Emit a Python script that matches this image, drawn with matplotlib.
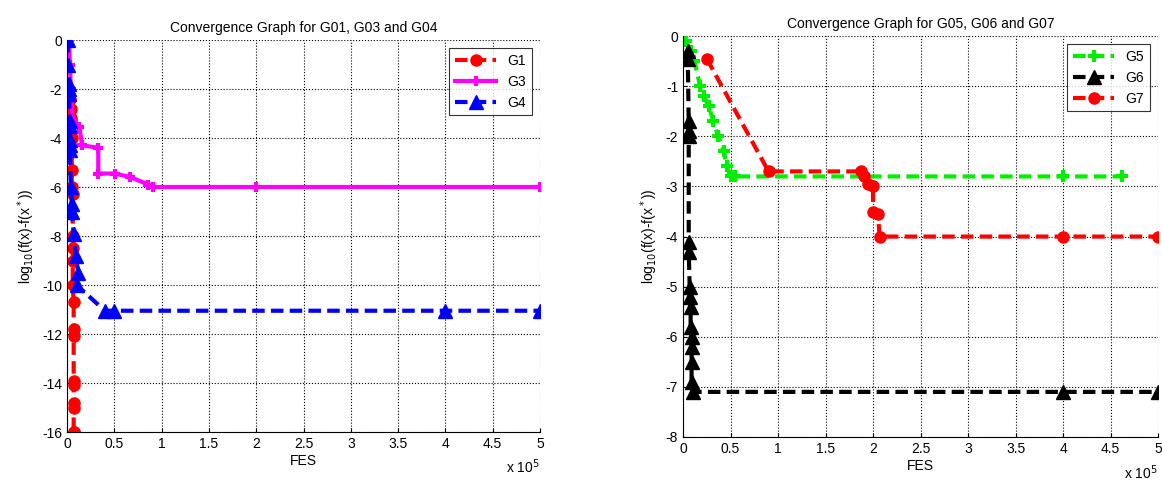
import numpy as np
import matplotlib
matplotlib.use('Agg')
import matplotlib.pyplot as plt

plt.rcParams['font.family'] = ['Liberation Sans', 'DejaVu Sans']
plt.rcParams['axes.unicode_minus'] = False

# left panel: G1, G3, G4 (FES in units of 1e5)
g1_x = [0.03, 0.04, 0.04, 0.05, 0.05, 0.05, 0.06, 0.06, 0.06, 0.06, 0.06, 0.07, 0.07, 0.07, 0.07, 0.07, 0.07, 0.07, 0.07, 0.07]
g1_y = [-2.4, -2.8, -3.2, -4.0, -5.3, -6.0, -6.3, -8.0, -8.5, -9.0, -10.0, -10.7, -11.8, -12.1, -13.9, -14.1, -14.8, -15.0, -16.0, -16.0]
g3_x = [0.02, 0.03, 0.04, 0.06, 0.13, 0.16, 0.33, 0.33, 0.51, 0.67, 0.86, 0.91, 2.0, 5.0]
g3_y = [0.0, -1.0, -2.0, -3.3, -3.55, -4.3, -4.4, -5.45, -5.45, -5.6, -5.9, -6.0, -6.0, -6.0]
g4_x = [0.01, 0.01, 0.02, 0.02, 0.02, 0.03, 0.03, 0.03, 0.03, 0.03, 0.04, 0.05, 0.05, 0.07, 0.09, 0.12, 0.1, 0.4, 0.5, 4.0, 5.0]
g4_y = [0.0, -1.0, -1.8, -2.0, -2.2, -3.3, -3.5, -4.1, -4.3, -4.5, -6.0, -6.7, -7.0, -7.9, -8.8, -9.5, -10.0, -11.05, -11.05, -11.05, -11.05]

# right panel: G5, G6, G7
g5_x = [0.03, 0.08, 0.12, 0.18, 0.22, 0.27, 0.32, 0.37, 0.43, 0.46, 0.5, 0.55, 4.0, 4.62]
g5_y = [-0.1, -0.3, -0.5, -1.0, -1.2, -1.4, -1.7, -2.0, -2.3, -2.6, -2.8, -2.8, -2.8, -2.8]
g6_x = [0.05, 0.05, 0.06, 0.06, 0.06, 0.06, 0.06, 0.07, 0.07, 0.08, 0.08, 0.09, 0.09, 0.09, 0.09, 0.1, 4.0, 5.0]
g6_y = [-0.3, -0.45, -1.7, -1.9, -2.0, -4.1, -4.3, -5.0, -5.2, -5.4, -5.8, -6.0, -6.2, -6.5, -6.9, -7.1, -7.1, -7.1]
g7_x = [0.25, 0.9, 1.87, 1.9, 1.95, 2.0, 2.0, 2.05, 2.07, 4.0, 5.0]
g7_y = [-0.45, -2.7, -2.7, -2.8, -2.95, -3.0, -3.5, -3.55, -4.0, -4.0, -4.0]

fig = plt.figure(figsize=(11.62, 4.82), dpi=100)
ax1 = fig.add_axes([0.0577, 0.1037, 0.407, 0.8133])
ax2 = fig.add_axes([0.5878, 0.0934, 0.4088, 0.8316])

lw = 3
ax1.plot(g1_x, g1_y, '--', color='red', lw=lw, marker='o', ms=8, label='G1', dashes=(3, 1.5))
ax1.plot(g3_x, g3_y, '-', color='magenta', lw=lw, marker='+', ms=7, mew=3, label='G3')
ax1.plot(g4_x, g4_y, '--', color='blue', lw=lw, marker='^', ms=10, label='G4', dashes=(3, 1.5))
ax1.set_ylim(-16, 0)
ax1.set_yticks(np.arange(-16, 1, 2))
ax1.set_title('Convergence Graph for G01, G03 and G04', fontsize=10)

ax2.plot(g5_x, g5_y, '--', color='#00ee00', lw=lw, marker='+', ms=8, mew=3, label='G5', dashes=(3, 1.5))
ax2.plot(g6_x, g6_y, '--', color='black', lw=lw, marker='^', ms=10, label='G6', dashes=(3, 1.5))
ax2.plot(g7_x, g7_y, '--', color='red', lw=lw, marker='o', ms=8, label='G7', dashes=(3, 1.5))
ax2.set_ylim(-8, 0)
ax2.set_yticks(np.arange(-8, 1, 1))
ax2.set_title('Convergence Graph for G05, G06 and G07', fontsize=10)

for ax in (ax1, ax2):
    ax.set_xlim(0, 5)
    ax.set_xticks(np.arange(0, 5.01, 0.5))
    ax.set_xticklabels(['0', '0.5', '1', '1.5', '2', '2.5', '3', '3.5', '4', '4.5', '5'])
    ax.grid(True, linestyle=':', color='black', lw=0.8)
    ax.spines['top'].set_visible(False)
    ax.spines['right'].set_visible(False)
    ax.tick_params(labelsize=10, direction='in', length=3)
    ax.set_xlabel('FES', fontsize=10, labelpad=2)
    ax.set_ylabel(r'log$_{10}$(f(x)-f(x$^*$))', fontsize=10)
    ax.text(1.0, -0.065, r'x 10$^5$', transform=ax.transAxes, ha='right', va='top', fontsize=10)
    leg = ax.legend(loc='upper right', fancybox=False, edgecolor='black', fontsize=10,
                    handlelength=3, borderaxespad=0.6)
    leg.get_frame().set_linewidth(0.8)

fig.savefig('out.png', dpi=100)
